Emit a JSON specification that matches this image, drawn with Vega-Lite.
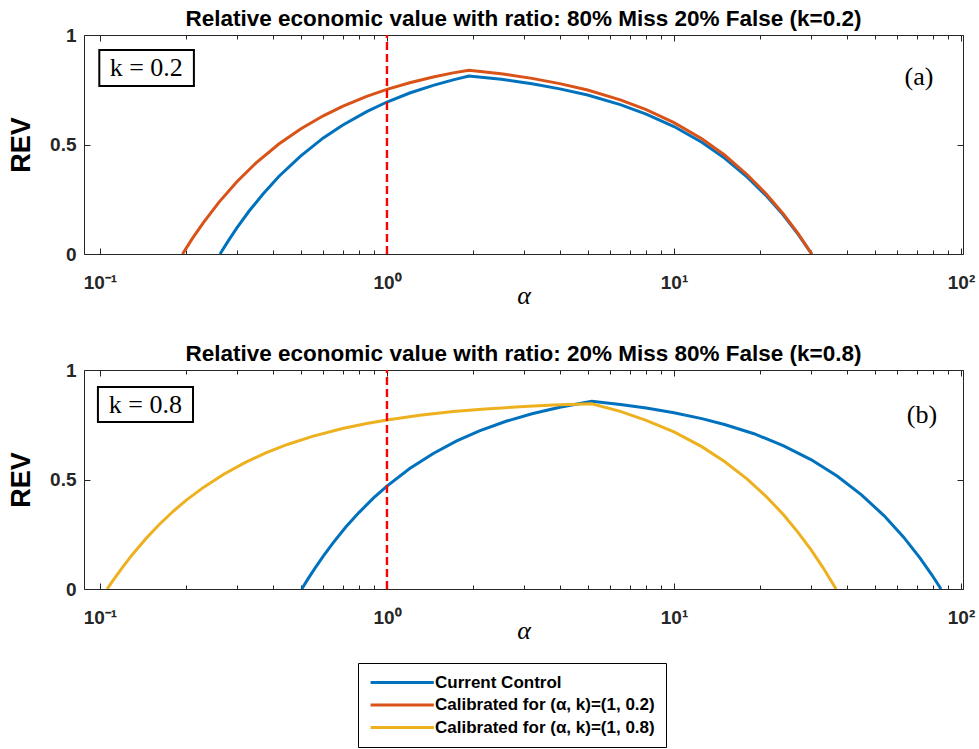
{
  "$schema": "https://vega.github.io/schema/vega-lite/v6.json",
  "background": "white",
  "padding": {"left": 7, "top": 7, "right": 5, "bottom": 0},
  "spacing": 33,
  "datasets": {
    "rev": [
      {"panel": "a", "series": "Current Control", "alpha": 0.262, "rev": 0.0},
      {"panel": "a", "series": "Current Control", "alpha": 0.28, "rev": 0.06},
      {"panel": "a", "series": "Current Control", "alpha": 0.3, "rev": 0.119},
      {"panel": "a", "series": "Current Control", "alpha": 0.33, "rev": 0.194},
      {"panel": "a", "series": "Current Control", "alpha": 0.37, "rev": 0.274},
      {"panel": "a", "series": "Current Control", "alpha": 0.42, "rev": 0.354},
      {"panel": "a", "series": "Current Control", "alpha": 0.5, "rev": 0.447},
      {"panel": "a", "series": "Current Control", "alpha": 0.6, "rev": 0.53},
      {"panel": "a", "series": "Current Control", "alpha": 0.7, "rev": 0.588},
      {"panel": "a", "series": "Current Control", "alpha": 0.85, "rev": 0.65},
      {"panel": "a", "series": "Current Control", "alpha": 1.0, "rev": 0.694},
      {"panel": "a", "series": "Current Control", "alpha": 1.2, "rev": 0.735},
      {"panel": "a", "series": "Current Control", "alpha": 1.45, "rev": 0.77},
      {"panel": "a", "series": "Current Control", "alpha": 1.7, "rev": 0.795},
      {"panel": "a", "series": "Current Control", "alpha": 1.93, "rev": 0.813},
      {"panel": "a", "series": "Current Control", "alpha": 2.5, "rev": 0.798},
      {"panel": "a", "series": "Current Control", "alpha": 3.2, "rev": 0.777},
      {"panel": "a", "series": "Current Control", "alpha": 4.0, "rev": 0.754},
      {"panel": "a", "series": "Current Control", "alpha": 5.0, "rev": 0.726},
      {"panel": "a", "series": "Current Control", "alpha": 6.5, "rev": 0.682},
      {"panel": "a", "series": "Current Control", "alpha": 8.0, "rev": 0.639},
      {"panel": "a", "series": "Current Control", "alpha": 10.0, "rev": 0.582},
      {"panel": "a", "series": "Current Control", "alpha": 12.5, "rev": 0.51},
      {"panel": "a", "series": "Current Control", "alpha": 15.0, "rev": 0.438},
      {"panel": "a", "series": "Current Control", "alpha": 18.0, "rev": 0.351},
      {"panel": "a", "series": "Current Control", "alpha": 21.0, "rev": 0.265},
      {"panel": "a", "series": "Current Control", "alpha": 24.0, "rev": 0.179},
      {"panel": "a", "series": "Current Control", "alpha": 27.0, "rev": 0.092},
      {"panel": "a", "series": "Current Control", "alpha": 30.2, "rev": 0.0},

      {"panel": "a", "series": "Calibrated for (α, k)=(1, 0.2)", "alpha": 0.194, "rev": 0.0},
      {"panel": "a", "series": "Calibrated for (α, k)=(1, 0.2)", "alpha": 0.21, "rev": 0.071},
      {"panel": "a", "series": "Calibrated for (α, k)=(1, 0.2)", "alpha": 0.23, "rev": 0.146},
      {"panel": "a", "series": "Calibrated for (α, k)=(1, 0.2)", "alpha": 0.26, "rev": 0.237},
      {"panel": "a", "series": "Calibrated for (α, k)=(1, 0.2)", "alpha": 0.3, "rev": 0.33},
      {"panel": "a", "series": "Calibrated for (α, k)=(1, 0.2)", "alpha": 0.35, "rev": 0.416},
      {"panel": "a", "series": "Calibrated for (α, k)=(1, 0.2)", "alpha": 0.42, "rev": 0.502},
      {"panel": "a", "series": "Calibrated for (α, k)=(1, 0.2)", "alpha": 0.5, "rev": 0.571},
      {"panel": "a", "series": "Calibrated for (α, k)=(1, 0.2)", "alpha": 0.6, "rev": 0.631},
      {"panel": "a", "series": "Calibrated for (α, k)=(1, 0.2)", "alpha": 0.7, "rev": 0.674},
      {"panel": "a", "series": "Calibrated for (α, k)=(1, 0.2)", "alpha": 0.85, "rev": 0.72},
      {"panel": "a", "series": "Calibrated for (α, k)=(1, 0.2)", "alpha": 1.0, "rev": 0.752},
      {"panel": "a", "series": "Calibrated for (α, k)=(1, 0.2)", "alpha": 1.2, "rev": 0.782},
      {"panel": "a", "series": "Calibrated for (α, k)=(1, 0.2)", "alpha": 1.45, "rev": 0.808},
      {"panel": "a", "series": "Calibrated for (α, k)=(1, 0.2)", "alpha": 1.7, "rev": 0.827},
      {"panel": "a", "series": "Calibrated for (α, k)=(1, 0.2)", "alpha": 1.93, "rev": 0.839},
      {"panel": "a", "series": "Calibrated for (α, k)=(1, 0.2)", "alpha": 2.5, "rev": 0.823},
      {"panel": "a", "series": "Calibrated for (α, k)=(1, 0.2)", "alpha": 3.2, "rev": 0.802},
      {"panel": "a", "series": "Calibrated for (α, k)=(1, 0.2)", "alpha": 4.0, "rev": 0.778},
      {"panel": "a", "series": "Calibrated for (α, k)=(1, 0.2)", "alpha": 5.0, "rev": 0.749},
      {"panel": "a", "series": "Calibrated for (α, k)=(1, 0.2)", "alpha": 6.5, "rev": 0.704},
      {"panel": "a", "series": "Calibrated for (α, k)=(1, 0.2)", "alpha": 8.0, "rev": 0.659},
      {"panel": "a", "series": "Calibrated for (α, k)=(1, 0.2)", "alpha": 10.0, "rev": 0.6},
      {"panel": "a", "series": "Calibrated for (α, k)=(1, 0.2)", "alpha": 12.5, "rev": 0.526},
      {"panel": "a", "series": "Calibrated for (α, k)=(1, 0.2)", "alpha": 15.0, "rev": 0.452},
      {"panel": "a", "series": "Calibrated for (α, k)=(1, 0.2)", "alpha": 18.0, "rev": 0.362},
      {"panel": "a", "series": "Calibrated for (α, k)=(1, 0.2)", "alpha": 21.0, "rev": 0.273},
      {"panel": "a", "series": "Calibrated for (α, k)=(1, 0.2)", "alpha": 24.0, "rev": 0.184},
      {"panel": "a", "series": "Calibrated for (α, k)=(1, 0.2)", "alpha": 27.0, "rev": 0.095},
      {"panel": "a", "series": "Calibrated for (α, k)=(1, 0.2)", "alpha": 30.2, "rev": 0.0},

      {"panel": "b", "series": "Current Control", "alpha": 0.505, "rev": 0.0},
      {"panel": "b", "series": "Current Control", "alpha": 0.53, "rev": 0.045},
      {"panel": "b", "series": "Current Control", "alpha": 0.56, "rev": 0.093},
      {"panel": "b", "series": "Current Control", "alpha": 0.6, "rev": 0.15},
      {"panel": "b", "series": "Current Control", "alpha": 0.65, "rev": 0.212},
      {"panel": "b", "series": "Current Control", "alpha": 0.72, "rev": 0.284},
      {"panel": "b", "series": "Current Control", "alpha": 0.8, "rev": 0.35},
      {"panel": "b", "series": "Current Control", "alpha": 0.9, "rev": 0.417},
      {"panel": "b", "series": "Current Control", "alpha": 1.0, "rev": 0.47},
      {"panel": "b", "series": "Current Control", "alpha": 1.2, "rev": 0.55},
      {"panel": "b", "series": "Current Control", "alpha": 1.45, "rev": 0.619},
      {"panel": "b", "series": "Current Control", "alpha": 1.75, "rev": 0.676},
      {"panel": "b", "series": "Current Control", "alpha": 2.1, "rev": 0.722},
      {"panel": "b", "series": "Current Control", "alpha": 2.6, "rev": 0.766},
      {"panel": "b", "series": "Current Control", "alpha": 3.2, "rev": 0.8},
      {"panel": "b", "series": "Current Control", "alpha": 4.0, "rev": 0.83},
      {"panel": "b", "series": "Current Control", "alpha": 5.17, "rev": 0.857},
      {"panel": "b", "series": "Current Control", "alpha": 6.5, "rev": 0.842},
      {"panel": "b", "series": "Current Control", "alpha": 8.0, "rev": 0.826},
      {"panel": "b", "series": "Current Control", "alpha": 10.0, "rev": 0.805},
      {"panel": "b", "series": "Current Control", "alpha": 12.5, "rev": 0.778},
      {"panel": "b", "series": "Current Control", "alpha": 15.0, "rev": 0.751},
      {"panel": "b", "series": "Current Control", "alpha": 19.0, "rev": 0.709},
      {"panel": "b", "series": "Current Control", "alpha": 24.0, "rev": 0.655},
      {"panel": "b", "series": "Current Control", "alpha": 30.0, "rev": 0.591},
      {"panel": "b", "series": "Current Control", "alpha": 37.0, "rev": 0.516},
      {"panel": "b", "series": "Current Control", "alpha": 45.0, "rev": 0.43},
      {"panel": "b", "series": "Current Control", "alpha": 54.0, "rev": 0.334},
      {"panel": "b", "series": "Current Control", "alpha": 63.0, "rev": 0.238},
      {"panel": "b", "series": "Current Control", "alpha": 72.0, "rev": 0.141},
      {"panel": "b", "series": "Current Control", "alpha": 79.0, "rev": 0.066},
      {"panel": "b", "series": "Current Control", "alpha": 85.2, "rev": 0.0},

      {"panel": "b", "series": "Calibrated for (α, k)=(1, 0.8)", "alpha": 0.106, "rev": 0.0},
      {"panel": "b", "series": "Calibrated for (α, k)=(1, 0.8)", "alpha": 0.11, "rev": 0.031},
      {"panel": "b", "series": "Calibrated for (α, k)=(1, 0.8)", "alpha": 0.12, "rev": 0.1},
      {"panel": "b", "series": "Calibrated for (α, k)=(1, 0.8)", "alpha": 0.13, "rev": 0.159},
      {"panel": "b", "series": "Calibrated for (α, k)=(1, 0.8)", "alpha": 0.145, "rev": 0.232},
      {"panel": "b", "series": "Calibrated for (α, k)=(1, 0.8)", "alpha": 0.16, "rev": 0.291},
      {"panel": "b", "series": "Calibrated for (α, k)=(1, 0.8)", "alpha": 0.18, "rev": 0.355},
      {"panel": "b", "series": "Calibrated for (α, k)=(1, 0.8)", "alpha": 0.2, "rev": 0.406},
      {"panel": "b", "series": "Calibrated for (α, k)=(1, 0.8)", "alpha": 0.23, "rev": 0.465},
      {"panel": "b", "series": "Calibrated for (α, k)=(1, 0.8)", "alpha": 0.27, "rev": 0.524},
      {"panel": "b", "series": "Calibrated for (α, k)=(1, 0.8)", "alpha": 0.32, "rev": 0.577},
      {"panel": "b", "series": "Calibrated for (α, k)=(1, 0.8)", "alpha": 0.38, "rev": 0.623},
      {"panel": "b", "series": "Calibrated for (α, k)=(1, 0.8)", "alpha": 0.45, "rev": 0.66},
      {"panel": "b", "series": "Calibrated for (α, k)=(1, 0.8)", "alpha": 0.55, "rev": 0.697},
      {"panel": "b", "series": "Calibrated for (α, k)=(1, 0.8)", "alpha": 0.7, "rev": 0.733},
      {"panel": "b", "series": "Calibrated for (α, k)=(1, 0.8)", "alpha": 0.85, "rev": 0.756},
      {"panel": "b", "series": "Calibrated for (α, k)=(1, 0.8)", "alpha": 1.0, "rev": 0.772},
      {"panel": "b", "series": "Calibrated for (α, k)=(1, 0.8)", "alpha": 1.3, "rev": 0.793},
      {"panel": "b", "series": "Calibrated for (α, k)=(1, 0.8)", "alpha": 1.7, "rev": 0.81},
      {"panel": "b", "series": "Calibrated for (α, k)=(1, 0.8)", "alpha": 2.2, "rev": 0.822},
      {"panel": "b", "series": "Calibrated for (α, k)=(1, 0.8)", "alpha": 2.9, "rev": 0.832},
      {"panel": "b", "series": "Calibrated for (α, k)=(1, 0.8)", "alpha": 3.8, "rev": 0.84},
      {"panel": "b", "series": "Calibrated for (α, k)=(1, 0.8)", "alpha": 5.17, "rev": 0.846},
      {"panel": "b", "series": "Calibrated for (α, k)=(1, 0.8)", "alpha": 6.5, "rev": 0.811},
      {"panel": "b", "series": "Calibrated for (α, k)=(1, 0.8)", "alpha": 8.0, "rev": 0.77},
      {"panel": "b", "series": "Calibrated for (α, k)=(1, 0.8)", "alpha": 10.0, "rev": 0.717},
      {"panel": "b", "series": "Calibrated for (α, k)=(1, 0.8)", "alpha": 12.5, "rev": 0.65},
      {"panel": "b", "series": "Calibrated for (α, k)=(1, 0.8)", "alpha": 15.0, "rev": 0.582},
      {"panel": "b", "series": "Calibrated for (α, k)=(1, 0.8)", "alpha": 18.0, "rev": 0.502},
      {"panel": "b", "series": "Calibrated for (α, k)=(1, 0.8)", "alpha": 21.0, "rev": 0.421},
      {"panel": "b", "series": "Calibrated for (α, k)=(1, 0.8)", "alpha": 24.0, "rev": 0.341},
      {"panel": "b", "series": "Calibrated for (α, k)=(1, 0.8)", "alpha": 27.0, "rev": 0.26},
      {"panel": "b", "series": "Calibrated for (α, k)=(1, 0.8)", "alpha": 30.0, "rev": 0.18},
      {"panel": "b", "series": "Calibrated for (α, k)=(1, 0.8)", "alpha": 33.0, "rev": 0.099},
      {"panel": "b", "series": "Calibrated for (α, k)=(1, 0.8)", "alpha": 36.7, "rev": 0.0}
    ]
  },
  "vconcat": [
    {
      "width": 879,
      "height": 219,
      "title": {"text": "Relative economic value with ratio: 80% Miss 20% False (k=0.2)"},
      "layer": [
        {
          "data": {"name": "rev"},
          "transform": [{"filter": "datum.panel == 'a'"}],
          "mark": {"type": "line", "strokeWidth": 3, "clip": true},
          "encoding": {
            "x": {"field": "alpha", "type": "quantitative",
                  "scale": {"type": "log", "domain": [0.088, 101.6], "nice": false},
                  "axis": {"orient": "bottom", "title": "α",
                           "values": [0.1,0.2,0.3,0.4,0.5,0.6,0.7,0.8,0.9,1,2,3,4,5,6,7,8,9,10,20,30,40,50,60,70,80,90,100],
                           "labelExpr": "datum.value == 0.1 ? '10⁻¹' : datum.value == 1 ? '10⁰' : datum.value == 10 ? '10¹' : datum.value == 100 ? '10²' : ''",
                           "tickSize": {"condition": {"test": "indexof([0.1,1,10,100], datum.value) >= 0", "value": -6}, "value": -4},
                           "labelPadding": 25, "titlePadding": -12}},
            "y": {"field": "rev", "type": "quantitative",
                  "scale": {"domain": [0, 1], "nice": false},
                  "axis": {"orient": "left", "title": "REV", "values": [0, 0.5, 1], "format": ".1~f",
                           "tickSize": -6, "labelPadding": 14, "titlePadding": 14}},
            "color": {"field": "series", "type": "nominal",
                      "scale": {"domain": ["Current Control", "Calibrated for (α, k)=(1, 0.2)", "Calibrated for (α, k)=(1, 0.8)"],
                                "range": ["#0072BD", "#D95319", "#EDB120"]},
                      "legend": {"orient": "none", "legendX": 274, "legendY": 628, "title": null,
                                 "symbolType": "M-9,0H1", "symbolSize": 160, "symbolOffset": 50,
                                 "symbolStrokeWidth": 3, "labelOffset": -1, "rowPadding": 4.5,
                                 "strokeColor": "#000", "fillColor": "white", "padding": 11,
                                 "labelFont": "Liberation Sans", "labelFontWeight": "bold", "labelFontSize": 17,
                                 "labelColor": "#000", "labelLimit": 400}}
          }
        },
        {
          "data": {"values": [{}]},
          "mark": {"type": "rule", "color": "#FF0000", "strokeWidth": 2.4, "strokeDash": [8, 4]},
          "encoding": {
            "x": {"datum": 1, "type": "quantitative",
                  "axis": {"orient": "top", "title": null, "labels": false,
                           "values": [0.1,0.2,0.3,0.4,0.5,0.6,0.7,0.8,0.9,1,2,3,4,5,6,7,8,9,10,20,30,40,50,60,70,80,90,100],
                           "tickSize": {"condition": {"test": "indexof([0.1,1,10,100], datum.value) >= 0", "value": -6}, "value": -4}}},
            "y": {"datum": 0, "type": "quantitative",
                  "axis": {"orient": "right", "title": null, "labels": false, "values": [0, 0.5, 1], "tickSize": -6}},
            "y2": {"datum": 1}
          }
        },
        {
          "data": {"values": [{}]},
          "mark": {"type": "rect", "fill": "white", "stroke": "#000", "strokeWidth": 2},
          "encoding": {
            "x": {"datum": 0.0995, "type": "quantitative", "axis": null},
            "x2": {"datum": 0.2125},
            "y": {"datum": 0.932, "type": "quantitative", "axis": null},
            "y2": {"datum": 0.767}
          }
        },
        {
          "data": {"values": [{}]},
          "mark": {"type": "text", "font": "Liberation Serif", "fontSize": 26, "baseline": "middle", "align": "center", "color": "#000"},
          "encoding": {
            "x": {"datum": 0.145, "type": "quantitative", "axis": null},
            "y": {"datum": 0.849, "type": "quantitative", "axis": null},
            "text": {"value": "k = 0.2"}
          }
        },
        {
          "data": {"values": [{}]},
          "mark": {"type": "text", "font": "Liberation Serif", "fontSize": 26, "baseline": "middle", "align": "center", "color": "#000"},
          "encoding": {
            "x": {"datum": 71.4, "type": "quantitative", "axis": null},
            "y": {"datum": 0.808, "type": "quantitative", "axis": null},
            "text": {"value": "(a)"}
          }
        }
      ],
      "resolve": {"axis": {"x": "independent", "y": "independent"}}
    },
    {
      "width": 879,
      "height": 219,
      "title": {"text": "Relative economic value with ratio: 20% Miss 80% False (k=0.8)"},
      "layer": [
        {
          "data": {"name": "rev"},
          "transform": [{"filter": "datum.panel == 'b'"}],
          "mark": {"type": "line", "strokeWidth": 3, "clip": true},
          "encoding": {
            "x": {"field": "alpha", "type": "quantitative",
                  "scale": {"type": "log", "domain": [0.088, 101.6], "nice": false},
                  "axis": {"orient": "bottom", "title": "α",
                           "values": [0.1,0.2,0.3,0.4,0.5,0.6,0.7,0.8,0.9,1,2,3,4,5,6,7,8,9,10,20,30,40,50,60,70,80,90,100],
                           "labelExpr": "datum.value == 0.1 ? '10⁻¹' : datum.value == 1 ? '10⁰' : datum.value == 10 ? '10¹' : datum.value == 100 ? '10²' : ''",
                           "tickSize": {"condition": {"test": "indexof([0.1,1,10,100], datum.value) >= 0", "value": -6}, "value": -4},
                           "labelPadding": 25, "titlePadding": -12}},
            "y": {"field": "rev", "type": "quantitative",
                  "scale": {"domain": [0, 1], "nice": false},
                  "axis": {"orient": "left", "title": "REV", "values": [0, 0.5, 1], "format": ".1~f",
                           "tickSize": -6, "labelPadding": 14, "titlePadding": 14}},
            "color": {"field": "series", "type": "nominal"}
          }
        },
        {
          "data": {"values": [{}]},
          "mark": {"type": "rule", "color": "#FF0000", "strokeWidth": 2.4, "strokeDash": [8, 4]},
          "encoding": {
            "x": {"datum": 1, "type": "quantitative",
                  "axis": {"orient": "top", "title": null, "labels": false,
                           "values": [0.1,0.2,0.3,0.4,0.5,0.6,0.7,0.8,0.9,1,2,3,4,5,6,7,8,9,10,20,30,40,50,60,70,80,90,100],
                           "tickSize": {"condition": {"test": "indexof([0.1,1,10,100], datum.value) >= 0", "value": -6}, "value": -4}}},
            "y": {"datum": 0, "type": "quantitative",
                  "axis": {"orient": "right", "title": null, "labels": false, "values": [0, 0.5, 1], "tickSize": -6}},
            "y2": {"datum": 1}
          }
        },
        {
          "data": {"values": [{}]},
          "mark": {"type": "rect", "fill": "white", "stroke": "#000", "strokeWidth": 2},
          "encoding": {
            "x": {"datum": 0.0984, "type": "quantitative", "axis": null},
            "x2": {"datum": 0.211},
            "y": {"datum": 0.922, "type": "quantitative", "axis": null},
            "y2": {"datum": 0.763}
          }
        },
        {
          "data": {"values": [{}]},
          "mark": {"type": "text", "font": "Liberation Serif", "fontSize": 26, "baseline": "middle", "align": "center", "color": "#000"},
          "encoding": {
            "x": {"datum": 0.144, "type": "quantitative", "axis": null},
            "y": {"datum": 0.842, "type": "quantitative", "axis": null},
            "text": {"value": "k = 0.8"}
          }
        },
        {
          "data": {"values": [{}]},
          "mark": {"type": "text", "font": "Liberation Serif", "fontSize": 26, "baseline": "middle", "align": "center", "color": "#000"},
          "encoding": {
            "x": {"datum": 73.1, "type": "quantitative", "axis": null},
            "y": {"datum": 0.795, "type": "quantitative", "axis": null},
            "text": {"value": "(b)"}
          }
        }
      ],
      "resolve": {"axis": {"x": "independent", "y": "independent"}}
    }
  ],
  "config": {
    "view": {"stroke": "#262626", "strokeWidth": 1},
    "title": {"font": "Liberation Sans", "fontSize": 22.5, "fontWeight": "bold", "color": "#000",
              "anchor": "middle", "frame": "group", "offset": -4},
    "axis": {"grid": false, "domain": false, "tickColor": "#262626", "tickWidth": 1,
             "labelFont": "Liberation Sans", "labelFontWeight": "bold", "labelFontSize": 19,
             "labelColor": "#262626", "labelOverlap": false, "labelFlush": false, "labelBound": false,
             "titleFont": "Liberation Sans", "titleFontWeight": "bold", "titleFontSize": 27, "titleColor": "#000"},
    "axisX": {"titleFont": "Liberation Serif", "titleFontStyle": "italic", "titleFontWeight": "normal", "titleFontSize": 26}
  }
}
